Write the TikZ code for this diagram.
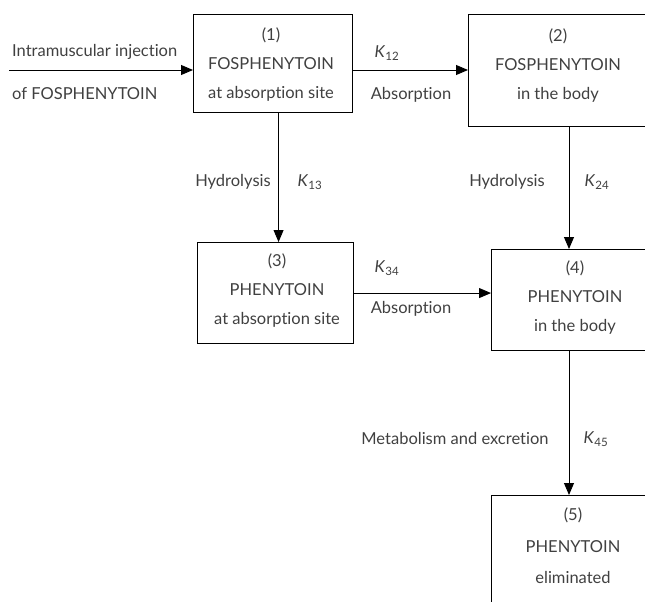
\documentclass[tikz,border=0pt]{standalone}
\usepackage{fontspec}
\setmainfont{Lato}[Ligatures=NoCommon]
\usetikzlibrary{arrows.meta}
\definecolor{txtgrey}{HTML}{404040}
\tikzset{
  box/.style={draw, line width=1.1pt, anchor=north west, inner sep=0pt},
  flow/.style={line width=0.9pt, -{Triangle[length=12pt,width=10pt]}},
  lbl/.style={text=txtgrey, font=\fontsize{16.5}{29}\selectfont, align=center, inner sep=0pt}
}
\newcommand{\kk}[1]{\textit{K}\textsubscript{#1}}
\begin{document}
\begin{tikzpicture}[x=1pt, y=-1pt]
	\useasboundingbox (0,0) rectangle (645,602);
	\clip (0,0) rectangle (645,602);
	% compartments
	\node [box, minimum width=159pt, minimum height=98pt] (b1) at (193,14) {};
	\node [box, minimum width=300pt, minimum height=112pt] (b2) at (468,14) {};
	\node [box, minimum width=156pt, minimum height=101pt] (b3) at (197,242) {};
	\node [box, minimum width=300pt, minimum height=101pt] (b4) at (491,249) {};
	\node [box, minimum width=300pt, minimum height=150pt] (b5) at (491,495) {};
	\node [lbl] (t1) at (271,65) {(1)\\FOSPHENYTOIN\\at absorption site};
	\node [lbl] (t2) at (558,66) {(2)\\FOSPHENYTOIN\\in the body};
	\node [lbl] (t3) at (277,291) {(3)\\PHENYTOIN\\at absorption site};
	\node [lbl] (t4) at (575,298) {(4)\\PHENYTOIN\\in the body};
	\node [lbl, font=\fontsize{16.5}{31.5}\selectfont] (t5) at (573,546) {(5)\\PHENYTOIN\\eliminated};
	% transfers
	\coordinate (inj) at (9,70);
	\draw [flow] (inj) -- (inj -| b1.west);
	\draw [flow] (b1.east |- inj) -- (b2.west |- inj);
	\draw [flow] ([xshift=5.5]b1.south) -- ([xshift=5.5]b1.south |- b3.north);
	\draw [flow] ([xshift=101]b2.south west) -- ([xshift=101]b2.south west |- b4.north);
	\draw [flow] (b3.east) -- (b4.west |- b3.east);
	\draw [flow] ([xshift=78]b4.south west) -- ([xshift=78]b4.south west |- b5.north);
	% labels
	\node [lbl, anchor=west] (inj1) at (12,52) {Intramuscular injection};
	\node [lbl, anchor=west] (inj2) at (12,94) {of FOSPHENYTOIN};
	\node [lbl] (k12) at (387,53) {\kk{12}};
	\node [lbl] (ab12) at (411,95) {Absorption};
	\node [lbl] (hy13) at (233,182) {Hydrolysis};
	\node [lbl] (k13) at (310,182) {\kk{13}};
	\node [lbl] (hy24) at (507,182) {Hydrolysis};
	\node [lbl] (k24) at (597,182) {\kk{24}};
	\node [lbl] (k34) at (387,268) {\kk{34}};
	\node [lbl] (ab34) at (411,309) {Absorption};
	\node [lbl] (me45) at (455,438) {Metabolism and excretion};
	\node [lbl] (k45) at (596,439) {\kk{45}};
\end{tikzpicture}
\end{document}
